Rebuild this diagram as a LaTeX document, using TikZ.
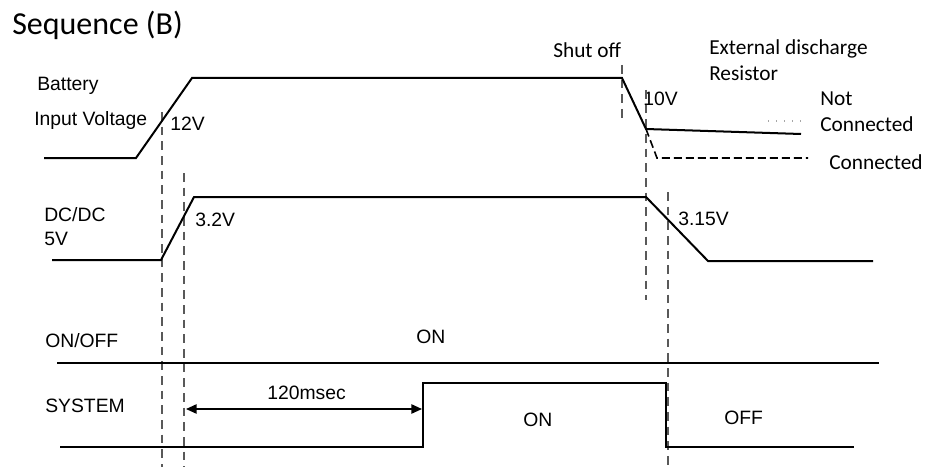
\documentclass[tikz,border=0pt]{standalone}
\usepackage{fontspec}
\setmainfont{Liberation Sans}
\newfontfamily\calib{Carlito}
\usetikzlibrary{arrows.meta}
\tikzset{
  sig/.style={line width=1.5pt, black, line join=miter},
  guide/.style={line width=1.1pt, black!65, dash pattern=on 6\pgflinewidth off 4\pgflinewidth},
  lbl/.style={anchor=base west, inner sep=0pt, font=\fontsize{14.5}{16}\selectfont},
  clbl/.style={anchor=base west, inner sep=0pt, font=\calib\fontsize{16}{18}\selectfont},
}
\begin{document}
\begin{tikzpicture}[x=0.75pt, y=-0.75pt]
\useasboundingbox (0,0) rectangle (925,467);
% title
\node[anchor=base west, inner sep=0pt, font=\calib\fontsize{24}{28}\selectfont] (title) at (12,35) {Sequence (B)};
% labels
\node[lbl] (bat) at (37,90) {Battery};
\node[lbl] (inv) at (34,125) {Input Voltage};
\node[lbl] (v12) at (170,131) {12V};
\node[clbl] (shut) at (553,58) {Shut off};
\node[clbl] (ext) at (709,55) {External discharge};
\node[clbl] (res) at (709,80) {Resistor};
\node[lbl] (v10) at (643,105) {10V};
\node[clbl] (nc1) at (820,105) {Not};
\node[clbl] (nc2) at (820,132) {Connected};
\node[clbl] (con) at (829,169) {Connected};
\node[lbl] (dc) at (44,221) {DC/DC};
\node[lbl] (v5) at (44,245) {5V};
\node[lbl] (v32) at (195,226) {3.2V};
\node[lbl] (v315) at (678,225) {3.15V};
\node[lbl] (onoff) at (45,347) {ON/OFF};
\node[lbl] (on1) at (416,343) {ON};
\node[lbl] (sys) at (45,412) {SYSTEM};
\node[lbl] (ms) at (267,399) {120msec};
\node[lbl] (on2) at (523,426) {ON};
\node[lbl] (off) at (724,424) {OFF};
% guide lines
\draw[guide] (162,112) -- (162,467);
\draw[guide] (184,173) -- (184,467);
\draw[guide] (622,65) -- (622,118);
\draw[guide] (646,90) -- (646,300);
\draw[guide] (668,192) -- (668,467);
% battery
\draw[sig] (44,158) -- (136,158) -- (192,78) -- (622,78) -- (646,129) -- (801,134);
\draw[sig, line width=1.2pt, dash pattern=on 6pt off 3pt] (646,129) -- (657,158) -- (808,158);
\draw[black!35, line width=1pt, dash pattern=on 1pt off 5pt] (768,121) -- (801,121);
% DC/DC
\draw[sig] (52,260) -- (161,260) -- (194,197) -- (646,197) -- (708,261) -- (873,261);
% ON/OFF
\draw[sig] (57,363) -- (879,363);
% SYSTEM
\draw[sig] (60,447) -- (423,447) -- (423,383) -- (666,383) -- (666,447) -- (854,447);
% 120 msec arrow
\coordinate (a1) at (186,409);
\coordinate (a2) at (422,409);
\draw[line width=1.2pt, {Triangle[length=8pt,width=7pt]}-{Triangle[length=8pt,width=7pt]}] (a1) -- (a2);
\end{tikzpicture}
\end{document}
